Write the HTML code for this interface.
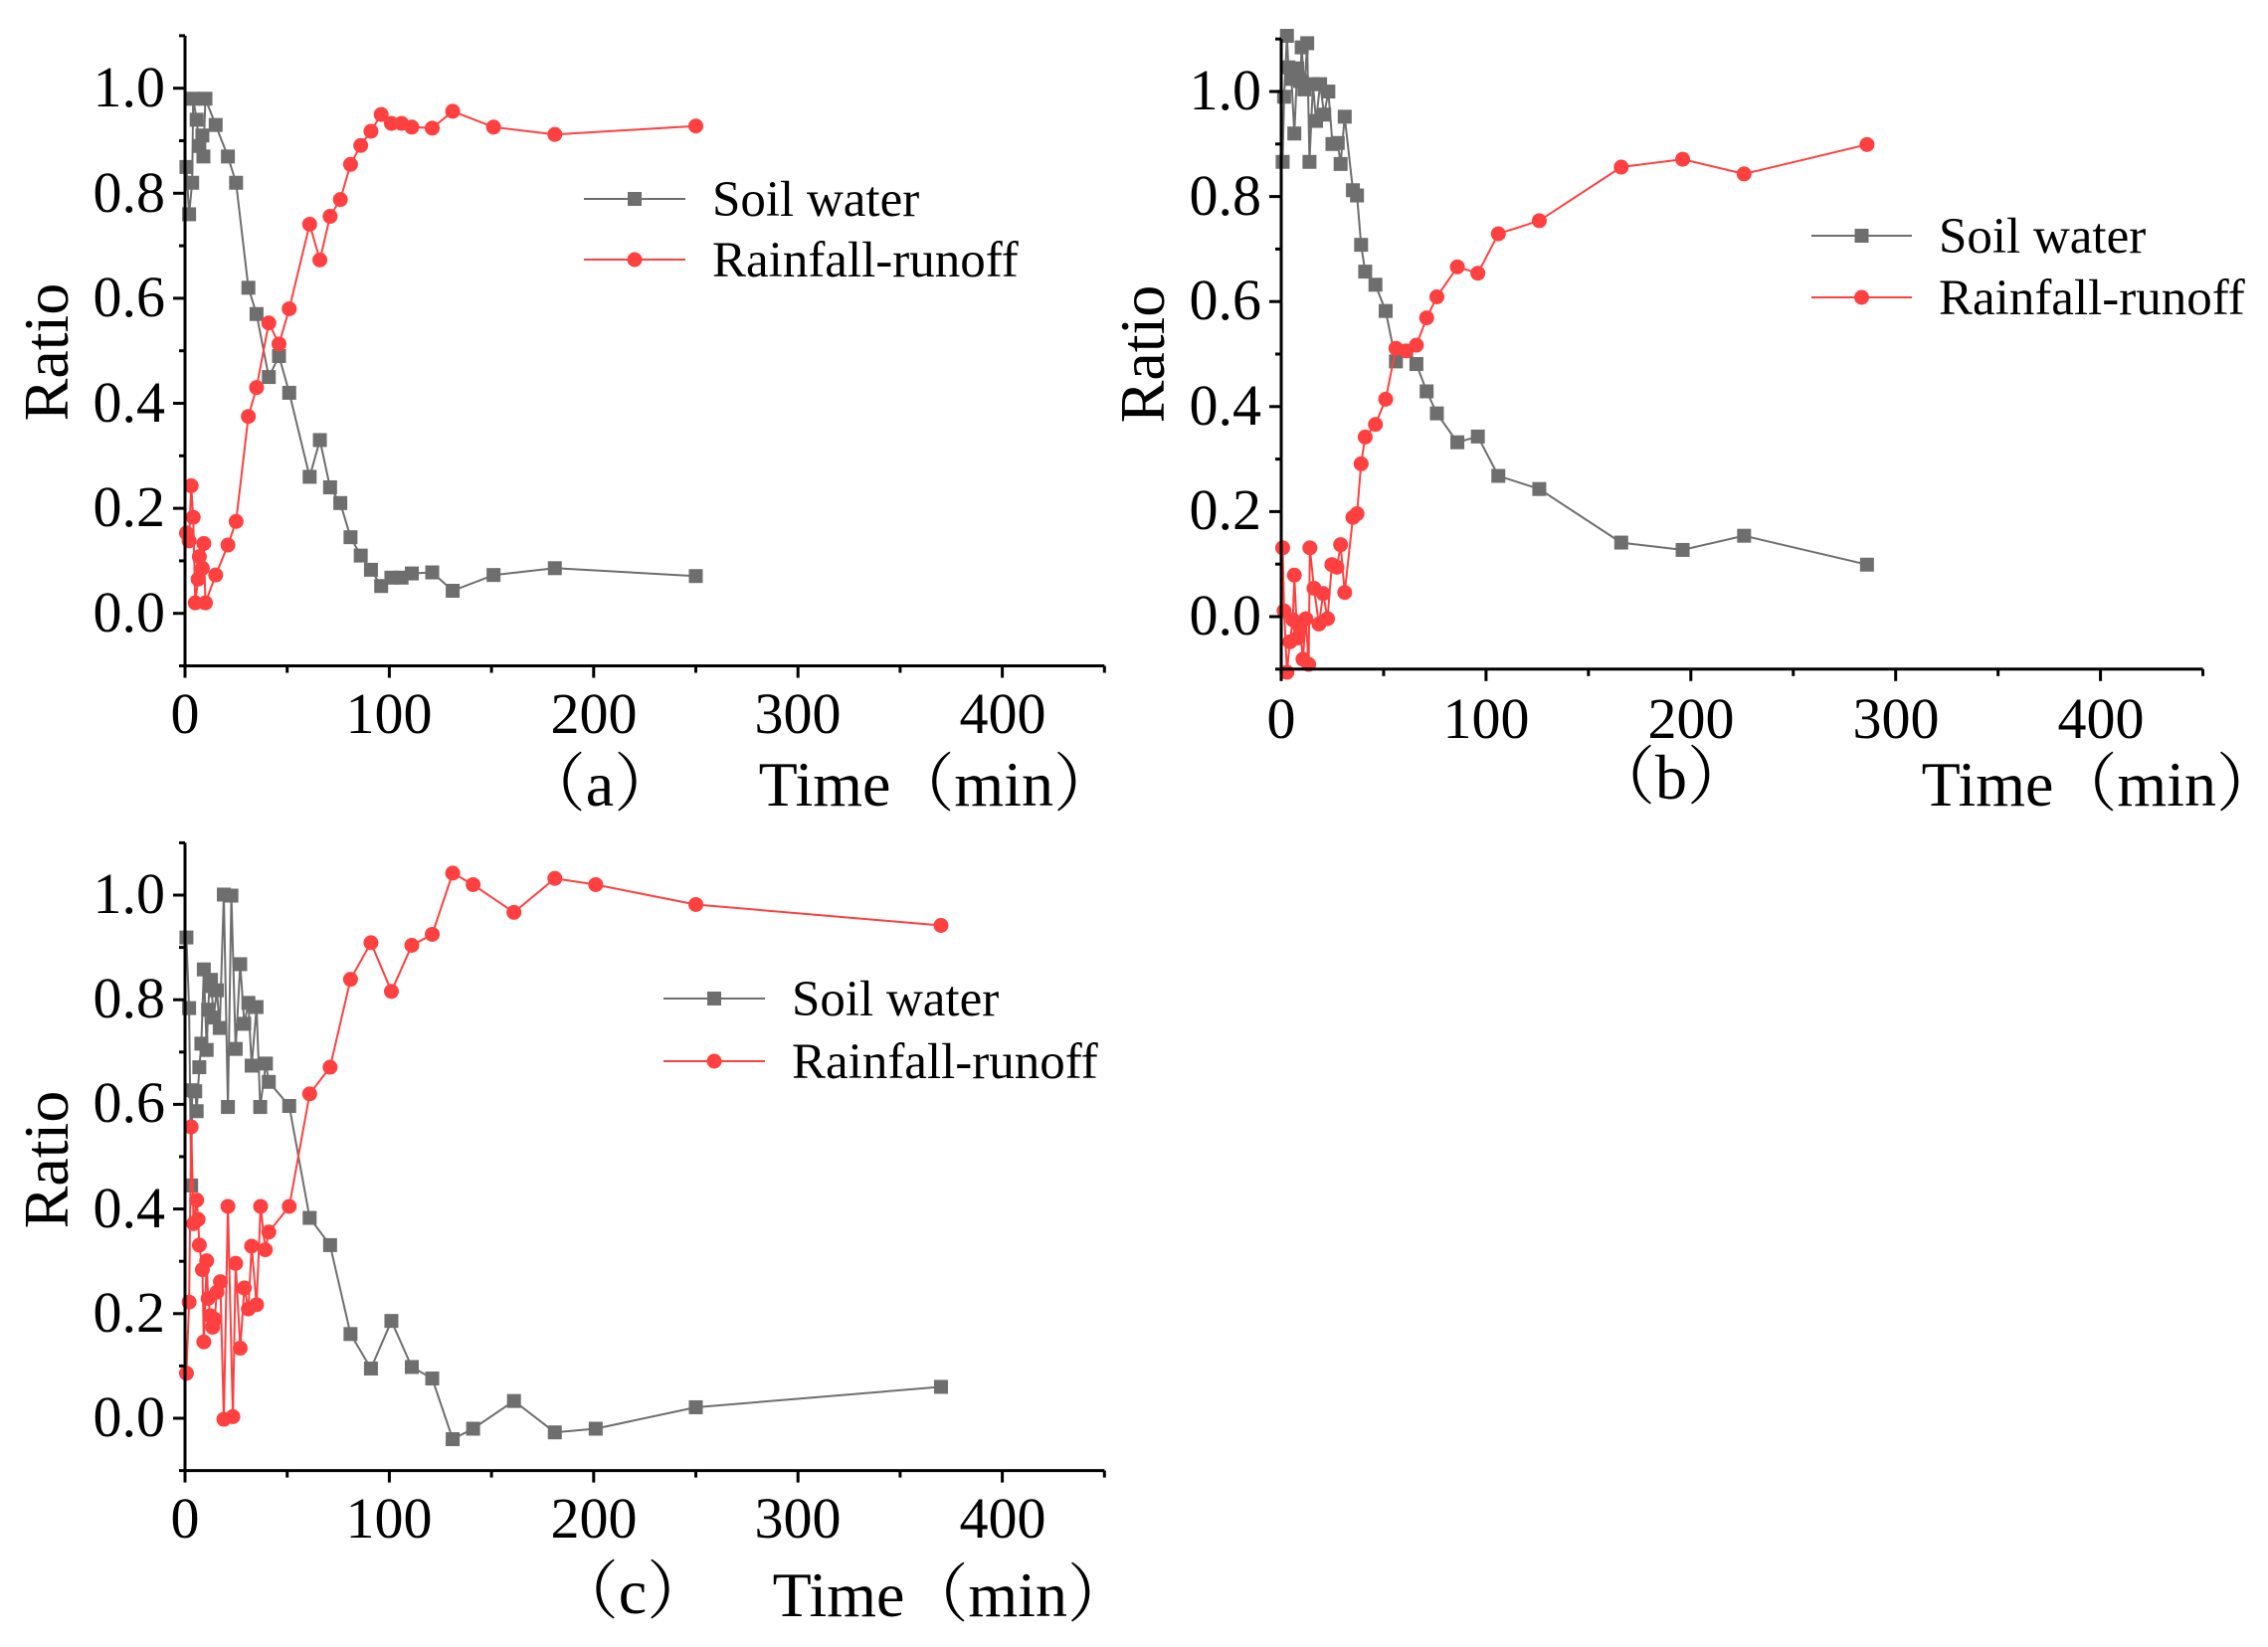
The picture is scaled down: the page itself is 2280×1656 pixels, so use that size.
<!DOCTYPE html>
<html><head><meta charset="utf-8">
<style>
html,body{margin:0;padding:0;background:#fff;}
svg{display:block;}
text{font-family:"Liberation Serif","Times New Roman",serif;fill:#000;}
text.cjk{font-family:"Liberation Serif","Noto Serif CJK SC","Noto Sans CJK SC",serif;}
</style></head>
<body>
<svg id="s" width="2280" height="1656" viewBox="0 0 2280 1656" xmlns="http://www.w3.org/2000/svg">
<rect width="2280" height="1656" fill="#fff"/>
<g id="plots"></g>
<!-- panel a texts -->
<g font-size="58" text-anchor="end">
<text x="166" y="107">1.0</text><text x="166" y="213">0.8</text><text x="166" y="318">0.6</text><text x="166" y="424">0.4</text><text x="166" y="529">0.2</text><text x="166" y="635">0.0</text>
</g>
<g font-size="58" text-anchor="middle">
<text x="186" y="737">0</text><text x="391" y="737">100</text><text x="597" y="737">200</text><text x="802" y="737">300</text><text x="1008" y="737">400</text>
</g>
<text x="0" y="0" font-size="64" text-anchor="middle" transform="translate(68,354) rotate(-90)">Ratio</text>
<text x="716" y="217" font-size="51">Soil water</text>
<text x="716" y="278" font-size="51">Rainfall-runoff</text>
<text class="cjk" x="603" y="810" font-size="64" text-anchor="middle">（a）</text>
<text class="cjk" x="1123" y="810" font-size="64" text-anchor="end">Time（min）</text>

<!-- panel b texts -->
<g font-size="58" text-anchor="end">
<text x="1268" y="110">1.0</text><text x="1268" y="216">0.8</text><text x="1268" y="321">0.6</text><text x="1268" y="427">0.4</text><text x="1268" y="532">0.2</text><text x="1268" y="638">0.0</text>
</g>
<g font-size="58" text-anchor="middle">
<text x="1288" y="742">0</text><text x="1494" y="742">100</text><text x="1700" y="742">200</text><text x="1906" y="742">300</text><text x="2112" y="742">400</text>
</g>
<text x="0" y="0" font-size="64" text-anchor="middle" transform="translate(1170,356) rotate(-90)">Ratio</text>
<text x="1949" y="254" font-size="51">Soil water</text>
<text x="1949" y="316" font-size="51">Rainfall-runoff</text>
<text class="cjk" x="1680" y="803" font-size="64" text-anchor="middle">（b）</text>
<text class="cjk" x="2292" y="810" font-size="64" text-anchor="end">Time（min）</text>

<!-- panel c texts -->
<g font-size="58" text-anchor="end">
<text x="166" y="918">1.0</text><text x="166" y="1023">0.8</text><text x="166" y="1128">0.6</text><text x="166" y="1234">0.4</text><text x="166" y="1339">0.2</text><text x="166" y="1444">0.0</text>
</g>
<g font-size="58" text-anchor="middle">
<text x="186" y="1546">0</text><text x="391" y="1546">100</text><text x="597" y="1546">200</text><text x="802" y="1546">300</text><text x="1008" y="1546">400</text>
</g>
<text x="0" y="0" font-size="64" text-anchor="middle" transform="translate(68,1166) rotate(-90)">Ratio</text>
<text x="796" y="1021" font-size="51">Soil water</text>
<text x="796" y="1084" font-size="51">Rainfall-runoff</text>
<text class="cjk" x="636" y="1622" font-size="64" text-anchor="middle">（c）</text>
<text class="cjk" x="1137" y="1625" font-size="64" text-anchor="end">Time（min）</text>
</svg>
<script>
var NS="http://www.w3.org/2000/svg";
var G=document.getElementById("plots");
function el(n,a){var e=document.createElementNS(NS,n);for(var k in a)e.setAttribute(k,a[k]);G.appendChild(e);return e;}
var GR="#6e6e6e", RD="#ff4040";
function panel(P){
  var X=function(t){return P.x0+t*P.xs;}, Y=function(v){return P.y0-v*P.ys;};
  var top=Y(1.1), bot=Y(-0.1), right=X(450);
  [[P.soil,GR,"sq"],[P.rain,RD,"ci"]].forEach(function(s){
    var pts=s[0].map(function(p){return X(p[0]).toFixed(1)+","+Y(p[1]).toFixed(1);}).join(" ");
    el("polyline",{points:pts,fill:"none",stroke:s[1],"stroke-width":2});
    s[0].forEach(function(p){
      var x=X(p[0]),y=Y(p[1]);
      if(s[2]=="sq")el("rect",{x:x-7,y:y-7,width:14,height:14,fill:s[1]});
      else el("circle",{cx:x,cy:y,r:7.5,fill:s[1]});
    });
  });
  el("line",{x1:P.x0,y1:top,x2:P.x0,y2:bot+1.5,stroke:"#000","stroke-width":3});
  el("line",{x1:P.x0-1.5,y1:bot,x2:right,y2:bot,stroke:"#000","stroke-width":3});
  for(var t=0;t<=450;t+=50){var L=(t%100==0)?12:7;el("line",{x1:X(t),y1:bot,x2:X(t),y2:bot+L,stroke:"#000","stroke-width":3});}
  for(var i=-1;i<=11;i++){var v=i/10;var L=(i%2==0)?12:6;el("line",{x1:P.x0-L,y1:Y(v),x2:P.x0,y2:Y(v),stroke:"#000","stroke-width":3});}
  el("line",{x1:P.lx1,y1:P.ly1,x2:P.lx2,y2:P.ly1,stroke:GR,"stroke-width":2});
  el("rect",{x:(P.lx1+P.lx2)/2-7,y:P.ly1-7,width:14,height:14,fill:GR});
  el("line",{x1:P.lx1,y1:P.ly2,x2:P.lx2,y2:P.ly2,stroke:RD,"stroke-width":2});
  el("circle",{cx:(P.lx1+P.lx2)/2,cy:P.ly2,r:7.5,fill:RD});
}
panel({x0:186,xs:2.054,y0:616.7,ys:528,lx1:587,lx2:689,ly1:200,ly2:261,
soil:[[0.7,0.85],[2,0.76],[3.5,0.82],[4,0.98],[5.7,0.94],[7,0.89],[8.5,0.91],[9,0.87],[10,0.98],[15,0.93],[21,0.87],[25,0.82],[31,0.62],[35,0.57],[41,0.45],[46,0.49],[51,0.42],[61,0.26],[66,0.33],[71,0.24],[76,0.21],[81,0.145],[86,0.11],[91,0.083],[96,0.052],[101,0.068],[106,0.068],[111,0.076],[121,0.078],[131,0.043],[151,0.073],[181,0.086],[250,0.071]],
rain:[[0.7,0.153],[2,0.138],[3,0.243],[4,0.183],[5,0.02],[6.4,0.065],[7,0.108],[8.5,0.086],[9.2,0.133],[10,0.02],[15,0.073],[21,0.13],[25,0.175],[31,0.375],[35,0.43],[41,0.553],[46,0.513],[51,0.58],[61,0.741],[66,0.673],[71,0.756],[76,0.788],[81,0.855],[86,0.891],[91,0.918],[96,0.95],[101,0.933],[106,0.933],[111,0.926],[121,0.924],[131,0.956],[151,0.926],[181,0.912],[250,0.928]]});
panel({x0:1288,xs:2.059,y0:620,ys:528,lx1:1821,lx2:1922,ly1:237,ly2:299,
soil:[[0.7,0.866],[1.4,0.99],[2.8,1.106],[3.5,1.046],[5,1.024],[6.4,0.92],[7.8,1.044],[9.2,1.02],[10,1.084],[11.3,1.004],[12.7,1.092],[13.8,0.866],[15.5,1.014],[17,0.944],[19,1.014],[21,0.956],[23,1.0],[25,0.9],[27.6,0.902],[29,0.862],[31,0.952],[35,0.812],[37,0.802],[39,0.708],[41,0.657],[46,0.632],[51,0.582],[56,0.486],[61,0.506],[66,0.481],[71,0.429],[76,0.387],[86,0.332],[96,0.343],[106,0.268],[126,0.243],[166,0.141],[196,0.127],[226,0.154],[286,0.099]],
rain:[[0.7,0.131],[1.4,0.011],[2.8,-0.106],[4.2,-0.048],[5.7,-0.006],[6.4,0.079],[7.8,-0.041],[9.2,-0.021],[10.6,-0.081],[12,-0.004],[13.4,-0.091],[14,0.131],[16,0.054],[18.4,-0.014],[20.5,0.044],[22.6,-0.004],[24.7,0.099],[27.2,0.094],[29,0.137],[31,0.046],[35,0.189],[37,0.196],[39,0.291],[41,0.342],[46,0.366],[51,0.414],[56,0.511],[61,0.506],[66,0.517],[71,0.569],[76,0.609],[86,0.666],[96,0.654],[106,0.729],[126,0.754],[166,0.856],[196,0.871],[226,0.843],[286,0.899]]});
panel({x0:186,xs:2.054,y0:1426,ys:526,lx1:667,lx2:769,ly1:1004,ly2:1067,
soil:[[0.7,0.919],[2,0.784],[3,0.445],[3.5,0.627],[5,0.625],[5.7,0.587],[7,0.671],[8,0.716],[9.2,0.858],[10.6,0.704],[11.3,0.781],[12,0.826],[12.7,0.838],[14,0.766],[15.6,0.818],[17,0.746],[19,1.001],[21,0.595],[22.7,0.999],[24.8,0.706],[27,0.868],[29,0.754],[31,0.794],[32.6,0.674],[35,0.786],[36.8,0.595],[39.6,0.678],[41,0.643],[51,0.597],[61,0.383],[71,0.331],[81,0.161],[91,0.095],[101,0.186],[111,0.098],[121,0.076],[131,-0.04],[141,-0.02],[161,0.033],[181,-0.027],[201,-0.02],[250,0.021],[370,0.06]],
rain:[[0.7,0.086],[2,0.222],[3,0.557],[4.2,0.372],[5.7,0.417],[6.4,0.38],[7,0.331],[8.5,0.284],[9.2,0.146],[10.6,0.301],[11.3,0.229],[12.4,0.196],[13.5,0.174],[14.5,0.189],[15.6,0.241],[17.3,0.261],[19,-0.002],[21,0.405],[23.4,0.003],[24.8,0.296],[27,0.134],[29,0.249],[31,0.209],[32.6,0.329],[35,0.217],[37,0.405],[39.3,0.322],[41,0.356],[51,0.405],[61,0.62],[71,0.671],[81,0.839],[91,0.909],[101,0.816],[111,0.904],[121,0.925],[131,1.042],[141,1.02],[161,0.967],[181,1.032],[201,1.02],[250,0.982],[370,0.942]]});
</script>
</body></html>
